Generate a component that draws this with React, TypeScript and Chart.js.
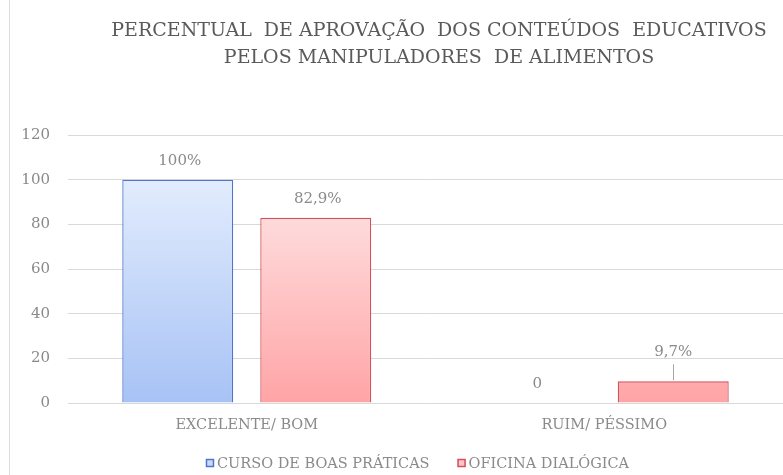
import React, { useEffect, useRef } from 'react';
import { Chart, registerables } from 'chart.js';

Chart.register(...registerables);

const titleLines = [
  'PERCENTUAL  DE APROVAÇÃO  DOS CONTEÚDOS  EDUCATIVOS',
  'PELOS MANIPULADORES  DE ALIMENTOS',
];
const categories = ['EXCELENTE/ BOM', 'RUIM/ PÉSSIMO'];
const seriesNames = ['CURSO DE BOAS PRÁTICAS', 'OFICINA DIALÓGICA'];
const cursoValues = [100, 0];
const oficinaValues = [82.9, 9.7];
const cursoLabels = ['100%', '0'];
const oficinaLabels = ['82,9%', '9,7%'];
const yMin = 0;
const yMax = 120;
const yStep = 20;

const FONT = "'DejaVu Serif', serif";
const GRID = '#d9d9d9';
const TEXT = '#8a8a8a';
const TITLE = '#5a5a5a';
const BLUE_BORDER = '#4f76c9';
const RED_BORDER = '#d3505c';

function blueFill(ctx: any) {
  const chart = ctx.chart;
  const a = chart.chartArea;
  if (!a) return '#c5d7f8';
  const y0 = chart.scales.y.getPixelForValue(100);
  const g = chart.ctx.createLinearGradient(0, y0, 0, a.bottom);
  g.addColorStop(0, '#e2ecfd');
  g.addColorStop(1, '#a7c2f5');
  return g;
}
function redFill(ctx: any) {
  const chart = ctx.chart;
  const a = chart.chartArea;
  if (!a) return '#ffc8c8';
  const y0 = chart.scales.y.getPixelForValue(100);
  const g = chart.ctx.createLinearGradient(0, y0, 0, a.bottom);
  g.addColorStop(0, '#fee6e6');
  g.addColorStop(1, '#ffa4a6');
  return g;
}

const decorPlugin = {
  id: 'decor',
  beforeDraw(chart: any) {
    const ctx = chart.ctx;
    ctx.save();
    ctx.fillStyle = '#ffffff';
    ctx.fillRect(0, 0, chart.width, chart.height);
    ctx.strokeStyle = '#dcdcdc';
    ctx.lineWidth = 1;
    ctx.beginPath();
    ctx.moveTo(9.5, 0);
    ctx.lineTo(9.5, chart.height);
    ctx.stroke();
    ctx.restore();
  },
  afterDraw(chart: any) {
    const ctx = chart.ctx;
    const area = chart.chartArea;
    ctx.save();
    // title
    ctx.fillStyle = TITLE;
    ctx.font = `19px ${FONT}`;
    ctx.textAlign = 'center';
    ctx.textBaseline = 'middle';
    const tx = 439;
    titleLines.forEach((line, i) => ctx.fillText(line, tx, 31 + i * 27));

    // data labels
    const labelSets = [cursoLabels, oficinaLabels];
    ctx.font = `15px ${FONT}`;
    ctx.fillStyle = TEXT;
    labelSets.forEach((labels, di) => {
      const meta = chart.getDatasetMeta(di);
      meta.data.forEach((el: any, i: number) => {
        const v = chart.data.datasets[di].data[i] as number;
        const small = v > 0 && v < 15;
        if (small) {
          ctx.fillText(labels[i], el.x, el.y - 29);
          ctx.strokeStyle = '#a6a6a6';
          ctx.lineWidth = 1;
          ctx.beginPath();
          ctx.moveTo(Math.round(el.x) + 0.5, el.y - 17);
          ctx.lineTo(Math.round(el.x) + 0.5, el.y - 1);
          ctx.stroke();
        } else {
          ctx.fillText(labels[i], el.x + 2, el.y - 19);
        }
      });
    });

    // legend
    ctx.font = `14.5px ${FONT}`;
    ctx.textBaseline = 'middle';
    ctx.textAlign = 'left';
    const box = 8;
    const gapBox = 3;
    const gapItem = 28;
    const widths = seriesNames.map((n) => ctx.measureText(n).width);
    const total = widths.reduce((s, w) => s + box + gapBox + w, 0) + gapItem;
    let x = (area.left + area.right) / 2 - total / 2 - 8;
    const ly = 463;
    const fills = ['#c9daf8', '#ffc4c8'];
    const borders = [BLUE_BORDER, RED_BORDER];
    seriesNames.forEach((n, i) => {
      ctx.fillStyle = fills[i];
      ctx.fillRect(x, ly - box / 2, box, box);
      ctx.strokeStyle = borders[i];
      ctx.lineWidth = 1.5;
      ctx.strokeRect(x + 0.5, ly - box / 2 + 0.5, box - 1, box - 1);
      ctx.fillStyle = TEXT;
      ctx.fillText(n, x + box + gapBox, ly + 1);
      x += box + gapBox + widths[i] + gapItem;
    });
    ctx.restore();
  },
};

export default function App() {
  const ref = useRef<HTMLCanvasElement | null>(null);
  useEffect(() => {
    if (!ref.current) return;
    const chart = new Chart(ref.current, {
      type: 'bar',
      data: {
        labels: categories,
        datasets: [
          {
            label: seriesNames[0],
            data: cursoValues,
            backgroundColor: blueFill,
            borderColor: BLUE_BORDER,
            borderWidth: 1.3,
            barPercentage: 0.804,
            categoryPercentage: 0.772,
          },
          {
            label: seriesNames[1],
            data: oficinaValues,
            backgroundColor: redFill,
            borderColor: RED_BORDER,
            borderWidth: 1.3,
            barPercentage: 0.804,
            categoryPercentage: 0.772,
          },
        ],
      },
      options: {
        responsive: false,
        animation: false,
        layout: { padding: { top: 135, bottom: 32, left: 0, right: 0 } },
        plugins: {
          legend: { display: false },
          title: { display: false },
          tooltip: { enabled: false },
        },
        scales: {
          x: {
            grid: { display: false, drawTicks: false },
            border: { display: false },
            ticks: { color: TEXT, font: { family: FONT, size: 14.5 }, padding: 14 },
            afterFit: (s: any) => { s.height = 40; },
          },
          y: {
            min: yMin,
            max: yMax,
            ticks: { stepSize: yStep, color: TEXT, font: { family: FONT, size: 15 }, padding: 18 },
            grid: { color: GRID, lineWidth: 1, drawTicks: false },
            border: { display: false },
            afterFit: (s: any) => { s.width = 68; },
          },
        },
      },
      plugins: [decorPlugin],
    });
    return () => chart.destroy();
  }, []);
  return (
    <div style={{ position: 'absolute', left: 0, top: 0, width: 783, height: 475 }}>
      <canvas ref={ref} width={783} height={475} />
    </div>
  );
}
